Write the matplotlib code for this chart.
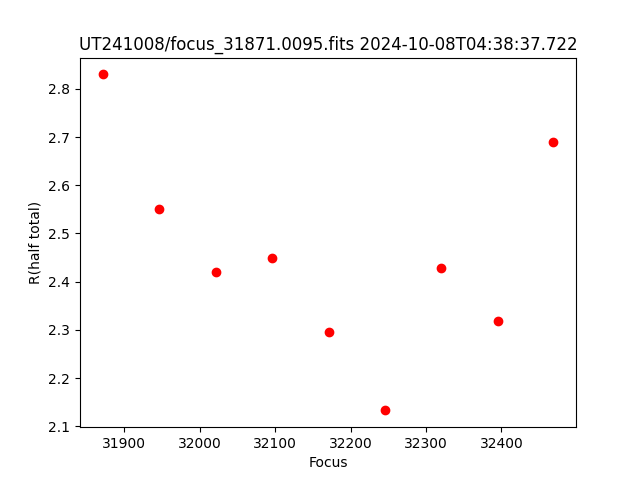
import matplotlib
matplotlib.use("Agg")
import matplotlib.pyplot as plt

focus = [31871, 31946, 32021, 32096, 32171, 32245, 32320, 32395, 32469]
rhalf = [2.830, 2.550, 2.420, 2.449, 2.295, 2.133, 2.428, 2.318, 2.689]

fig, ax = plt.subplots(figsize=(6.4, 4.8), dpi=100)
ax.plot(focus, rhalf, 'ro')
ax.set_xlabel('Focus')
ax.set_ylabel('R(half total)')
ax.set_title('UT241008/focus_31871.0095.fits 2024-10-08T04:38:37.722')
fig.savefig('out.png')
